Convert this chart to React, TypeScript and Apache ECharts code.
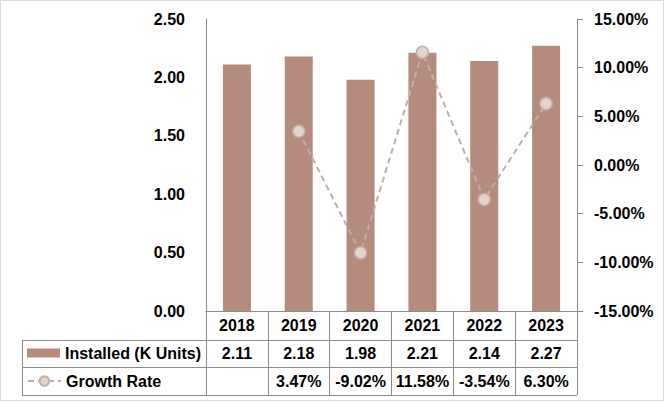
import React, { useEffect, useRef } from "react";
import * as echarts from "echarts";

const categories = ["2018", "2019", "2020", "2021", "2022", "2023"];
const installed = [2.11, 2.18, 1.98, 2.21, 2.14, 2.27];
const growth: (number | null)[] = [null, 3.47, -9.02, 11.58, -3.54, 6.3];
const leftTicks = { min: 0, max: 2.5, interval: 0.5 };
const rightTicks = { min: -15, max: 15, interval: 5 };

const FONT = "'Liberation Sans', Arial, sans-serif";
const GRAY = "#8A8A8A";
const BAR = "#B58B7E";
const LINE = "#C2ADA7";

const labelStyle = {
  fontFamily: FONT,
  fontSize: 16,
  fontWeight: "bold" as const,
  color: "#000",
};

export default function App() {
  const ref = useRef<HTMLDivElement>(null);
  useEffect(() => {
    document.body.style.margin = "0";
    if (!ref.current) return;
    const chart = echarts.init(ref.current, undefined, { renderer: "svg" });
    chart.setOption({
      animation: false,
      backgroundColor: "#fff",
      grid: { left: 206, right: 88, top: 19, bottom: 91 },
      legend: [
        {
          data: [{ name: "Installed (K Units)", icon: "rect" }],
          left: 27,
          top: 345,
          padding: 0,
          itemWidth: 33,
          itemHeight: 9,
          itemGap: 5,
          textStyle: { ...labelStyle },
          selectedMode: false,
        },
        {
          data: ["Growth Rate"],
          left: 27,
          top: 373,
          padding: 0,
          itemWidth: 33,
          itemHeight: 12,
          textStyle: { ...labelStyle },
          selectedMode: false,
        },
      ],
      xAxis: [
        {
          type: "category",
          data: categories,
          position: "bottom",
          axisLine: { show: true, lineStyle: { color: GRAY, width: 1 } },
          axisTick: { show: true, interval: 0, length: 84, lineStyle: { color: GRAY } },
          axisLabel: { ...labelStyle, margin: 6, interval: 0 },
          splitLine: { show: false },
        },
        {
          type: "category",
          data: categories,
          position: "bottom",
          offset: 28,
          axisLine: { show: false },
          axisTick: { show: false },
          axisLabel: {
            ...labelStyle,
            margin: 6,
            interval: 0,
            formatter: (_v: string, i: number) => installed[i].toFixed(2),
          },
        },
        {
          type: "category",
          data: categories,
          position: "bottom",
          offset: 56,
          axisLine: { show: false },
          axisTick: { show: false },
          axisLabel: {
            ...labelStyle,
            margin: 6,
            interval: 0,
            formatter: (_v: string, i: number) =>
              growth[i] == null ? "" : (growth[i] as number).toFixed(2) + "%",
          },
        },
      ],
      yAxis: [
        {
          type: "value",
          ...leftTicks,
          position: "left",
          axisLine: { show: true, lineStyle: { color: GRAY } },
          axisTick: { show: false },
          splitLine: { show: false },
          axisLabel: { ...labelStyle, margin: 21, formatter: (v: number) => v.toFixed(2) },
        },
        {
          type: "value",
          ...rightTicks,
          position: "right",
          axisLine: { show: true, lineStyle: { color: GRAY } },
          axisTick: { show: true, length: 6, lineStyle: { color: GRAY } },
          splitLine: { show: false },
          axisLabel: { ...labelStyle, margin: 17, formatter: (v: number) => v.toFixed(2) + "%" },
        },
      ],
      series: [
        {
          name: "Installed (K Units)",
          type: "bar",
          data: installed,
          barWidth: 28,
          itemStyle: { color: BAR },
          xAxisIndex: 0,
          yAxisIndex: 0,
        },
        {
          name: "Growth Rate",
          type: "line",
          data: growth,
          xAxisIndex: 0,
          yAxisIndex: 1,
          symbol: "circle",
          symbolSize: 12,
          lineStyle: { color: LINE, width: 2, type: [6, 4] },
          itemStyle: { color: "#E4D4CE", borderColor: "#C6B0A9", borderWidth: 1.5 },
          z: 5,
        },
      ],
      graphic: [
        {
          type: "rect",
          shape: { x: 0.5, y: 0.5, width: 663, height: 400 },
          style: { fill: "none", stroke: "#D9D9D9", lineWidth: 1 },
          silent: true,
        },
        {
          type: "line",
          shape: { x1: 22, y1: 340.5, x2: 577, y2: 340.5 },
          style: { stroke: GRAY, lineWidth: 1 },
        },
        {
          type: "line",
          shape: { x1: 22, y1: 367.5, x2: 577, y2: 367.5 },
          style: { stroke: GRAY, lineWidth: 1 },
        },
        {
          type: "line",
          shape: { x1: 22, y1: 395.5, x2: 577, y2: 395.5 },
          style: { stroke: GRAY, lineWidth: 1 },
        },
        {
          type: "line",
          shape: { x1: 22.5, y1: 340, x2: 22.5, y2: 396 },
          style: { stroke: GRAY, lineWidth: 1 },
        },
      ],
    });
    return () => chart.dispose();
  }, []);
  return <div ref={ref} style={{ width: 665, height: 402 }} />;
}
